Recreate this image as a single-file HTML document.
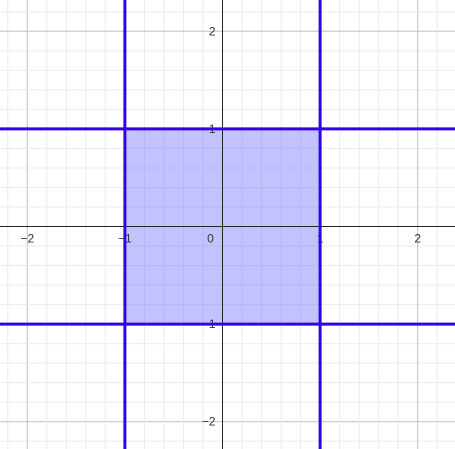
<!DOCTYPE html>
<html><head><meta charset="utf-8"><style>
html,body{margin:0;padding:0;background:#fff;width:455px;height:449px;overflow:hidden;}
svg{display:block;font-family:"Liberation Sans",sans-serif;}
</style></head><body>
<svg id="chart" width="455" height="449" viewBox="0 0 455 449" xmlns="http://www.w3.org/2000/svg"></svg>
<script>
const xTicks=[-2,-1,0,1,2];
const yTicks=[-2,-1,1,2];
const xTickLabels=["−2","−1","0","1","2"];
const yTickLabels=["−2","−1","1","2"];
const verticalLines=[-1,1];
const horizontalLines=[-1,1];
const region={x0:-1,x1:1,y0:-1,y1:1};
const U=97.6, OX=222.5, OY=226.5;
const sx=v=>OX+v*U, sy=v=>OY-v*U;
const svg=document.getElementById('chart');
const NS='http://www.w3.org/2000/svg';
function mk(t,a,p){const e=document.createElementNS(NS,t);for(const k in a)e.setAttribute(k,a[k]);(p||svg).appendChild(e);return e;}
const grid=mk('g',{});


for(let i=-15;i<=15;i++){
  const v=i/5, major=i%5===0;
  const st=major?'#c0c0c0':'#ebebeb';
  mk('line',{x1:sx(v),x2:sx(v),y1:0,y2:449,stroke:st,'stroke-width':1},grid);
  mk('line',{x1:0,x2:455,y1:sy(v),y2:sy(v),stroke:st,'stroke-width':1},grid);
}
const reg=mk('rect',{x:sx(region.x0),y:sy(region.y1),width:sx(region.x1)-sx(region.x0),height:sy(region.y0)-sy(region.y1),fill:'rgba(110,110,255,0.42)'});


const xa=mk('line',{x1:0,x2:455,y1:OY,y2:OY,stroke:'#252525','stroke-width':1});


const ya=mk('line',{x1:OX,x2:OX,y1:0,y2:449,stroke:'#252525','stroke-width':1});


xTicks.forEach((v,i)=>{
  const t=mk('text',{x:v===0?sx(v)-12:sx(v),y:OY+16,'font-size':12,fill:'#333','text-anchor':'middle'});
  t.textContent=xTickLabels[i];
  
  
});
yTicks.forEach((v,i)=>{
  const t=mk('text',{x:OX-7,y:sy(v)+4,'font-size':12,fill:'#333','text-anchor':'end'});
  t.textContent=yTickLabels[i];
  
  
});
verticalLines.forEach(v=>{
  const l=mk('line',{x1:sx(v),x2:sx(v),y1:0,y2:449,stroke:'#3300ee','stroke-width':3});
  
  
});
horizontalLines.forEach(v=>{
  const l=mk('line',{x1:0,x2:455,y1:sy(v),y2:sy(v),stroke:'#3300ee','stroke-width':3});
  
  
});
</script>
</body></html>
